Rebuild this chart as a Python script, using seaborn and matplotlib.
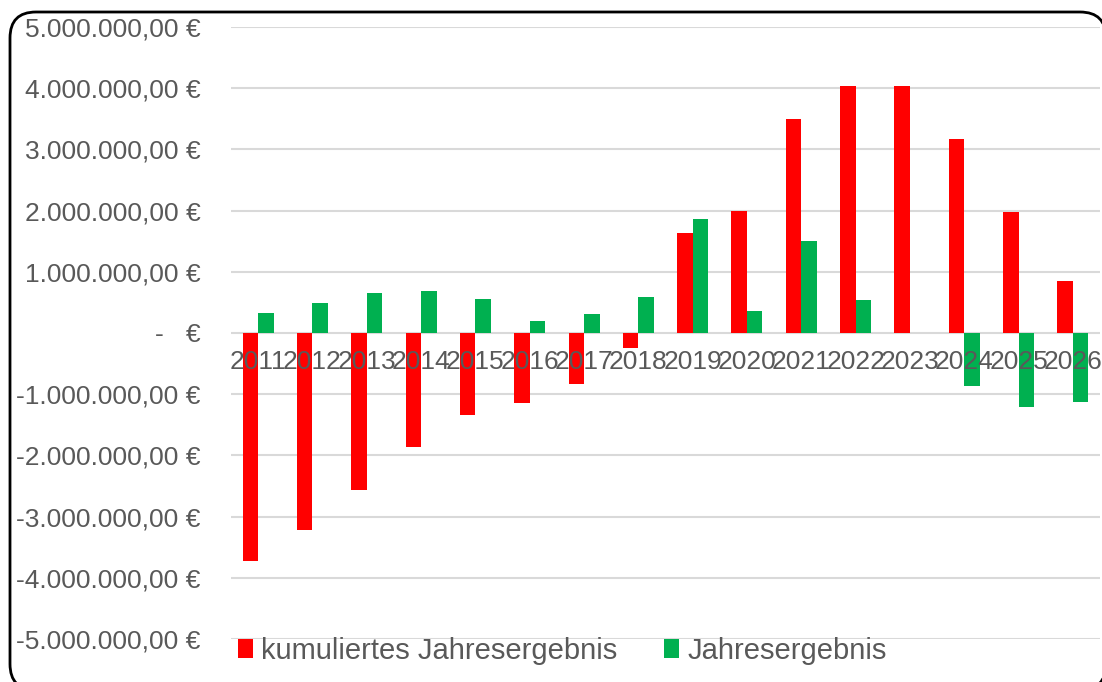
import numpy as np
import pandas as pd
import matplotlib
matplotlib.use("Agg")
import matplotlib.pyplot as plt
import seaborn as sns
from matplotlib.patches import FancyBboxPatch, Polygon
from matplotlib.transforms import IdentityTransform
from matplotlib.ticker import FuncFormatter

# chart data (values in EUR)
years = [str(y) for y in range(2011, 2027)]
kumuliert = [-3720000, -3220000, -2560000, -1860000, -1340000, -1140000, -830000, -245000,
             1630000, 1990000, 3500000, 4040000, 4040000, 3170000, 1980000, 850000]
jahr = [330000, 490000, 650000, 690000, 550000, 200000, 310000, 590000,
        1860000, 360000, 1500000, 540000, 0, -870000, -1210000, -1130000]
series_names = ["kumuliertes Jahresergebnis", "Jahresergebnis"]
yticks = np.arange(-5000000, 5000001, 1000000)

df = pd.DataFrame({
    "Jahr": years * 2,
    "Wert": kumuliert + jahr,
    "Serie": [series_names[0]] * len(years) + [series_names[1]] * len(years),
})

sns.set_theme(style="white")
plt.rcParams["font.family"] = ["Liberation Sans", "DejaVu Sans"]

grey = "#595959"

fig = plt.figure(figsize=(11.02, 6.82), dpi=100)
ax = fig.add_axes([231 / 1102, 43 / 682, 869 / 1102, 612 / 682])

sns.barplot(data=df, x="Jahr", y="Wert", hue="Serie", ax=ax,
            palette=["#FF0000", "#00B050"], width=0.57, saturation=1,
            edgecolor="none", legend=True, zorder=2)

ax.set_ylim(-5000000, 5000000)
ax.set_xlim(-0.5, len(years) - 0.5)
ax.set_yticks(yticks)


def eur(v, pos):
    if abs(v) < 1:
        return "-   €"
    s = f"{v:,.2f}".replace(",", "X").replace(".", ",").replace("X", ".")
    return s + " €"


ax.yaxis.set_major_formatter(FuncFormatter(eur))
# gridlines behind the bars, tick labels in front of them
ax.grid(False)
for t in yticks:
    ax.axhline(t, color="#d9d9d9", linewidth=1.5, zorder=0)
ax.set_axisbelow(False)
for side in ["left", "right", "top", "bottom"]:
    ax.spines[side].set_visible(False)
ax.spines["bottom"].set_position(("data", 0))
ax.tick_params(axis="y", length=0, pad=22, labelsize=19, labelcolor=grey)
ax.tick_params(axis="x", length=0, pad=12, labelsize=19, labelcolor=grey)
ax.set_xlabel("")
ax.set_ylabel("")

handles, labels = ax.get_legend_handles_labels()
ax.get_legend().remove()
fig.legend(handles, labels, loc="center left", bbox_to_anchor=(238 / 1102, 1 - 651 / 682),
           ncol=2, frameon=False, fontsize=21, labelcolor=grey,
           handlelength=0.5, handleheight=0.6, handletextpad=0.3, columnspacing=1.6,
           borderpad=0, borderaxespad=0)

# rounded chart border in pixel coordinates; curves flattened to line
# segments because Agg clips curved paths badly outside the canvas
box = FancyBboxPatch((10, -8), 1096, 678, boxstyle="round,pad=0,rounding_size=26")
outline = box.get_path().to_polygons(closed_only=True)[0]
border = Polygon(outline, closed=True, fill=False, edgecolor="black",
                 linewidth=2, transform=IdentityTransform())
fig.patches.append(border)

fig.savefig("out.png", dpi=100)
